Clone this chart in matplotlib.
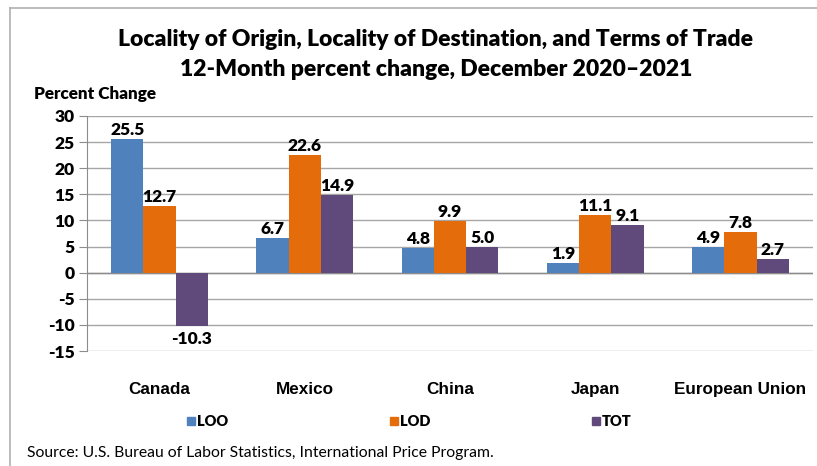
import matplotlib
matplotlib.use("Agg")
import matplotlib.pyplot as plt
import numpy as np
from matplotlib.patches import Rectangle
from matplotlib.lines import Line2D

categories = ["Canada", "Mexico", "China", "Japan", "European Union"]
series_names = ["LOO", "LOD", "TOT"]
loo = [25.5, 6.7, 4.8, 1.9, 4.9]
lod = [12.7, 22.6, 9.9, 11.1, 7.8]
tot = [-10.3, 14.9, 5.0, 9.1, 2.7]
yticks = [30, 25, 20, 15, 10, 5, 0, -5, -10, -15]
colors = ["#4F81BD", "#E46C0A", "#604A7B"]

W, H = 817, 466
fig = plt.figure(figsize=(W / 100, H / 100), dpi=100)

# axes position in pixels
x0, x1 = 87, 813
y_top, y_bot = 116, 351
ax = fig.add_axes([x0 / W, 1 - y_bot / H, (x1 - x0) / W, (y_bot - y_top) / H])

n = len(categories)
x = np.arange(n)
bw = 0.222
data = [loo, lod, tot]
for i, (vals, c) in enumerate(zip(data, colors)):
    pos = x + (i - 1) * bw
    ax.bar(pos, vals, width=bw, color=c, zorder=3, label=series_names[i])
    for p, v in zip(pos, vals):
        if v >= 0:
            ax.text(p, v + 0.2, f"{v:.1f}", ha="center", va="bottom",
                    fontsize=12.5, fontweight="heavy", family="Lato", zorder=4)
        else:
            ax.text(p, v - 0.9, f"{v:.1f}", ha="center", va="top",
                    fontsize=12.5, fontweight="heavy", family="Lato", zorder=4)

ax.set_xlim(-0.5, n - 0.5)
ax.set_ylim(-15, 30)
ax.set_yticks(yticks)
ax.set_yticklabels([str(t) for t in yticks], fontsize=12.5, fontweight="heavy", family="Lato")
ax.grid(axis="y", color="#A6A6A6", linewidth=1.0, zorder=0)
ax.axhline(0, color="#8C8C8C", linewidth=1.0, zorder=2)
for s in ["top", "right", "bottom"]:
    ax.spines[s].set_visible(False)
ax.spines["left"].set_color("#8C8C8C")
ax.tick_params(axis="y", length=6, color="#8C8C8C", pad=3)
ax.set_xticks(x)
ax.set_xticklabels(categories, fontsize=12.3, fontweight="bold", family="Liberation Sans")
ax.tick_params(axis="x", length=0, pad=22)

# title
tx = 436 / W
fig.text(tx, 1 - 40 / H, "Locality of Origin, Locality of Destination, and Terms of Trade",
         ha="center", va="center", fontsize=16.5, fontweight="heavy", family="Lato")
fig.text(tx, 1 - 69 / H, "12-Month percent change, December 2020\u20132021",
         ha="center", va="center", fontsize=16.5, fontweight="heavy", family="Lato")
fig.text(34 / W, 1 - 94 / H, "Percent Change", ha="left", va="center",
         fontsize=12.3, fontweight="heavy", family="Lato")

# legend
leg_x = [187, 390, 592]
for lx, c, name in zip(leg_x, colors, series_names):
    fig.patches.append(Rectangle((lx / W, 1 - 425 / H), 8 / W, 8 / H,
                                 transform=fig.transFigure, color=c))
    fig.text((lx + 10) / W, 1 - 421 / H, name, ha="left", va="center",
             fontsize=10.5, fontweight="heavy", family="Lato")

fig.text(27 / W, 1 - 453 / H, "Source: U.S. Bureau of Labor Statistics, International Price Program.",
         ha="left", va="center", fontsize=11.3, family="Lato")

# chart border
fig.add_artist(Line2D([10 / W, 10 / W], [0, 1 - 8 / H], transform=fig.transFigure,
                      color="#B0B0B0", linewidth=1.2))
fig.add_artist(Line2D([10 / W, 1], [1 - 8 / H, 1 - 8 / H], transform=fig.transFigure,
                      color="#B0B0B0", linewidth=1.2))

fig.savefig("out.png", dpi=100)
